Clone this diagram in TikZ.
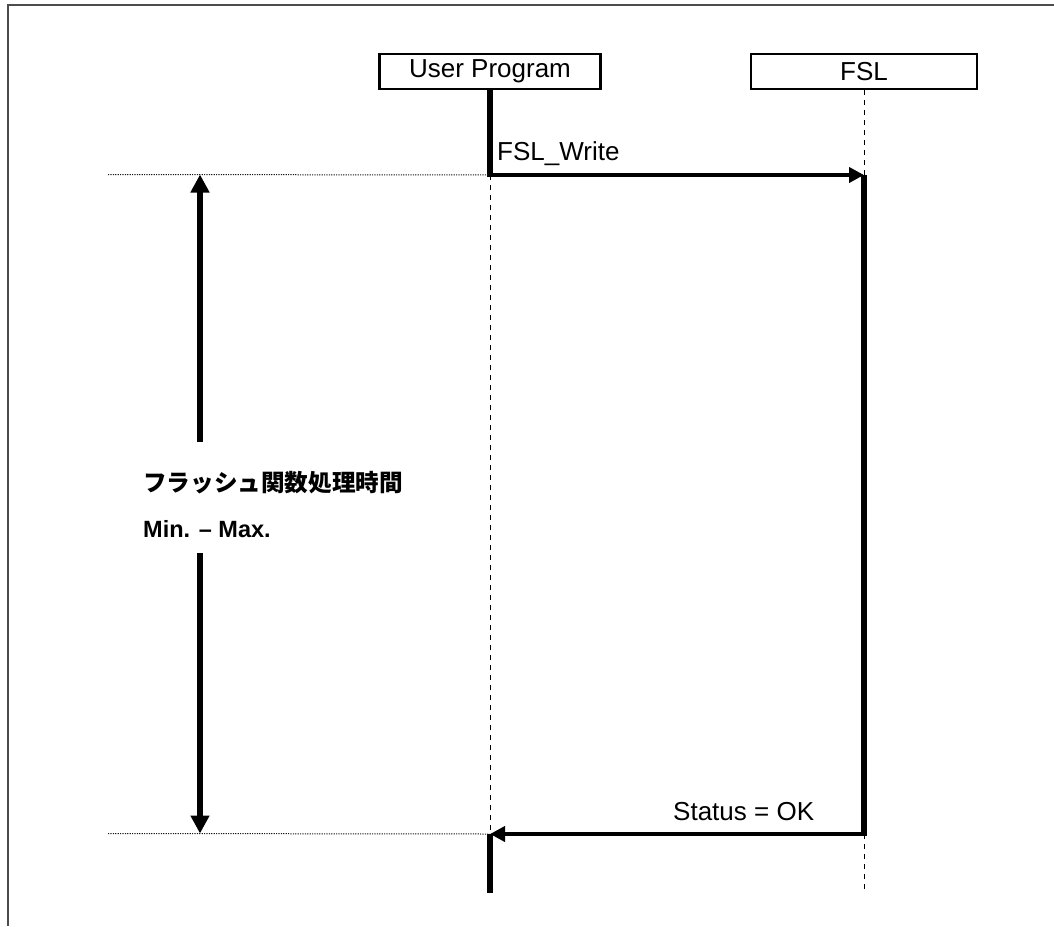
\documentclass[tikz,border=0pt]{standalone}
\usepackage{fontspec}
\setmainfont{Liberation Sans}
\newfontfamily\jpfont{Noto Sans CJK JP}
\usetikzlibrary{arrows.meta}
\begin{document}
\begin{tikzpicture}[x=1pt,y=-1pt,
  lifebox/.style={draw,line width=2.2pt,minimum height=35pt,inner sep=0pt,font=\fontsize{26}{28}\selectfont},
  act/.style={line width=5.2pt},
  lifeline/.style={line width=1pt,dash pattern=on 5pt off 5pt},
  msg/.style={line width=4.8pt,-{Triangle[length=15pt,width=15pt]}},
  guide/.style={line width=1pt,dash pattern=on 1.2pt off 1.2pt,black!90},
  span/.style={line width=5.5pt,-{Triangle[length=18pt,width=18pt]}},
  lbl/.style={font=\fontsize{26}{28}\selectfont,inner sep=0pt},
  frame/.style={line width=2pt,black!70},
]
\useasboundingbox (0,0) rectangle (1054,926);
\draw[frame] (1054,5) -- (8,5) -- (8,926);

\node[lifebox,minimum width=221pt] (up) at (490,71.5) {User Program};
\node[lifebox,minimum width=226pt] (fsl) at (864,71.5) {FSL};

\coordinate (upA) at (490,175);
\coordinate (upAx) at (490,177.4);
\coordinate (upB) at (490,834);
\coordinate (upEnd) at (490,893);
\coordinate (fslA) at (864,175);
\coordinate (fslB) at (864,834);
\coordinate (fslBx) at (864,836.4);
\coordinate (fslEnd) at (864,893);

\draw[act] (up.south) -- (upAx);
\draw[lifeline] (upA) -- (upB);
\draw[act] (upB) -- (upEnd);
\draw[lifeline] (fsl.south) -- (fslA);
\draw[act] (fslA) -- (fslBx);
\draw[lifeline] (fslB) -- (fslEnd);

\draw[msg] ([xshift=-2.6pt]upA) -- (fslA);
\draw[msg] (fslB) -- (upB);

\node[lbl,anchor=base west] (wr) at (497,160) {FSL\_Write};
\node[lbl,anchor=base west] (st) at (673,820) {Status = OK};

\coordinate (g1) at (108,174.5);
\coordinate (g2) at (108,833.5);
\draw[guide] (g1) -- (upA);
\draw[guide] (g2) -- (upB);

\coordinate (s1) at (200,174.5);
\coordinate (s1e) at (200,442);
\coordinate (s2s) at (200,553);
\coordinate (s2) at (200,833.5);
\draw[span] (s1e) -- (s1);
\draw[span] (s2s) -- (s2);

\node[anchor=west,inner sep=0pt,font=\jpfont\bfseries\fontsize{23.6}{26}\selectfont] (jp) at (143,483) {フラッシュ関数処理時間};
\node[anchor=base west,inner sep=0pt,font=\bfseries\fontsize{23.5}{26}\selectfont] (mm) at (143,537) {Min. – Max.};
\end{tikzpicture}
\end{document}
